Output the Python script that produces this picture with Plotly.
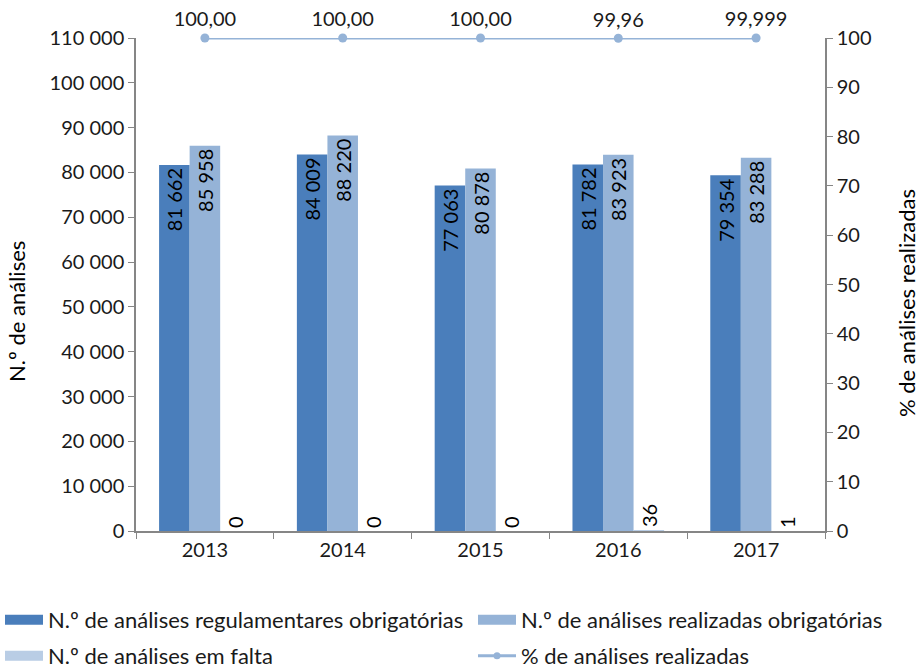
import plotly.graph_objects as go

anos = ["2013", "2014", "2015", "2016", "2017"]
regulamentares = [81662, 84009, 77063, 81782, 79354]
realizadas = [85958, 88220, 80878, 83923, 83288]
em_falta = [0, 0, 0, 36, 1]
percentagem = [100.00, 100.00, 100.00, 99.96, 99.999]
percentagem_txt = ["100,00", "100,00", "100,00", "99,96", "99,999"]

nomes = ["N.º de análises regulamentares obrigatórias",
         "N.º de análises realizadas obrigatórias",
         "N.º de análises em falta",
         "% de análises realizadas"]
cores = ["#4A7EBB", "#95B3D7", "#B9CDE5", "#95B3D7"]

FONT = "Lato"
FS = 20      # numbers
FT = 22      # words
TXT = "#1a1a1a"
AX = "#868686"

fig = go.Figure()
for vals, cor, pos in [(regulamentares, cores[0], "inside"),
                       (realizadas, cores[1], "inside"),
                       (em_falta, cores[2], "outside")]:
    fig.add_trace(go.Bar(
        x=anos, y=vals, showlegend=False,
        marker=dict(color=cor, line=dict(width=0)),
        texttemplate="%{y:,}", textposition=pos, textangle=-90,
        insidetextanchor="end", textfont=dict(family=FONT, size=FS, color="#000000"),
        cliponaxis=False,
    ))
fig.add_trace(go.Scatter(
    x=anos, y=percentagem, name=nomes[3], yaxis="y2", showlegend=False,
    mode="lines+markers+text", text=percentagem_txt, textposition="top center",
    line=dict(color=cores[3], width=3), marker=dict(color=cores[3], size=9),
    textfont=dict(family=FONT, size=FS, color=TXT), cliponaxis=False,
))

# legend entries (wide rectangular swatches as in the reference), one legend per slot
legend_ids = ["legend", "legend2", "legend3", "legend4"]
for i in range(3):
    fig.add_trace(go.Scatter(
        x=[None], y=[None], mode="lines", name=nomes[i],
        line=dict(color=cores[i], width=10),
        legend=legend_ids[i], hoverinfo="skip",
    ))
fig.add_trace(go.Scatter(
    x=[None], y=[None], mode="lines+markers", name=nomes[3],
    line=dict(color=cores[3], width=3), marker=dict(color=cores[3], size=7),
    legend=legend_ids[3], hoverinfo="skip",
))

legfont = dict(family=FONT, size=FT, color=TXT)
slots = [(0.0, 1 - 620 / 671), (473 / 924, 1 - 620 / 671),
         (0.0, 1 - 656 / 671), (473 / 924, 1 - 656 / 671)]
legends = {}
for lid, (lx, ly) in zip(legend_ids, slots):
    legends[lid] = dict(orientation="h", xref="container", yref="container",
                        x=lx, xanchor="left", y=ly, yanchor="middle",
                        font=legfont, itemwidth=38, bgcolor="rgba(0,0,0,0)")

L, R, T, B = 136, 99, 38, 140
W, H = 924, 671
pw, ph = W - L - R, H - T - B

fig.update_layout(
    width=W, height=H,
    margin=dict(l=L, r=R, t=T, b=B),
    paper_bgcolor="white", plot_bgcolor="white",
    font=dict(family=FONT, size=FS, color=TXT),
    separators=", ",
    barmode="group", bargap=0.335, bargroupgap=0,
    xaxis=dict(type="category", showline=True, linecolor=AX, linewidth=1.5,
               ticks="outside", tickson="boundaries", tickcolor=AX, ticklen=6,
               showgrid=False, automargin=False,
               tickfont=dict(family=FONT, size=FS, color=TXT)),
    yaxis=dict(range=[0, 110000], dtick=10000, tickformat=",d", showline=True,
               linecolor=AX, linewidth=1.5, ticks="outside", tickcolor=AX, ticklen=6,
               showgrid=False, zeroline=False, automargin=False),
    yaxis2=dict(range=[0, 100], dtick=10, overlaying="y", side="right", showline=True,
                linecolor=AX, linewidth=1.5, ticks="outside", tickcolor=AX, ticklen=6,
                showgrid=False, zeroline=False, automargin=False),
    annotations=[
        dict(text="N.º de análises", xref="paper", yref="paper",
             x=(16 - L) / pw, y=(H - B - 312) / ph, textangle=-90, showarrow=False,
             xanchor="center", yanchor="middle", font=dict(family=FONT, size=FT, color="#000000")),
        dict(text="% de análises realizadas", xref="paper", yref="paper",
             x=1 + (906 - (W - R)) / pw, y=(H - B - 303) / ph, textangle=-90, showarrow=False,
             xanchor="center", yanchor="middle", font=dict(family=FONT, size=FT, color="#000000")),
    ],
    showlegend=True,
    **legends,
)

fig.write_html("out.html", config={"displayModeBar": False},
               post_script="document.body.style.margin='0';document.body.style.overflow='hidden';")
